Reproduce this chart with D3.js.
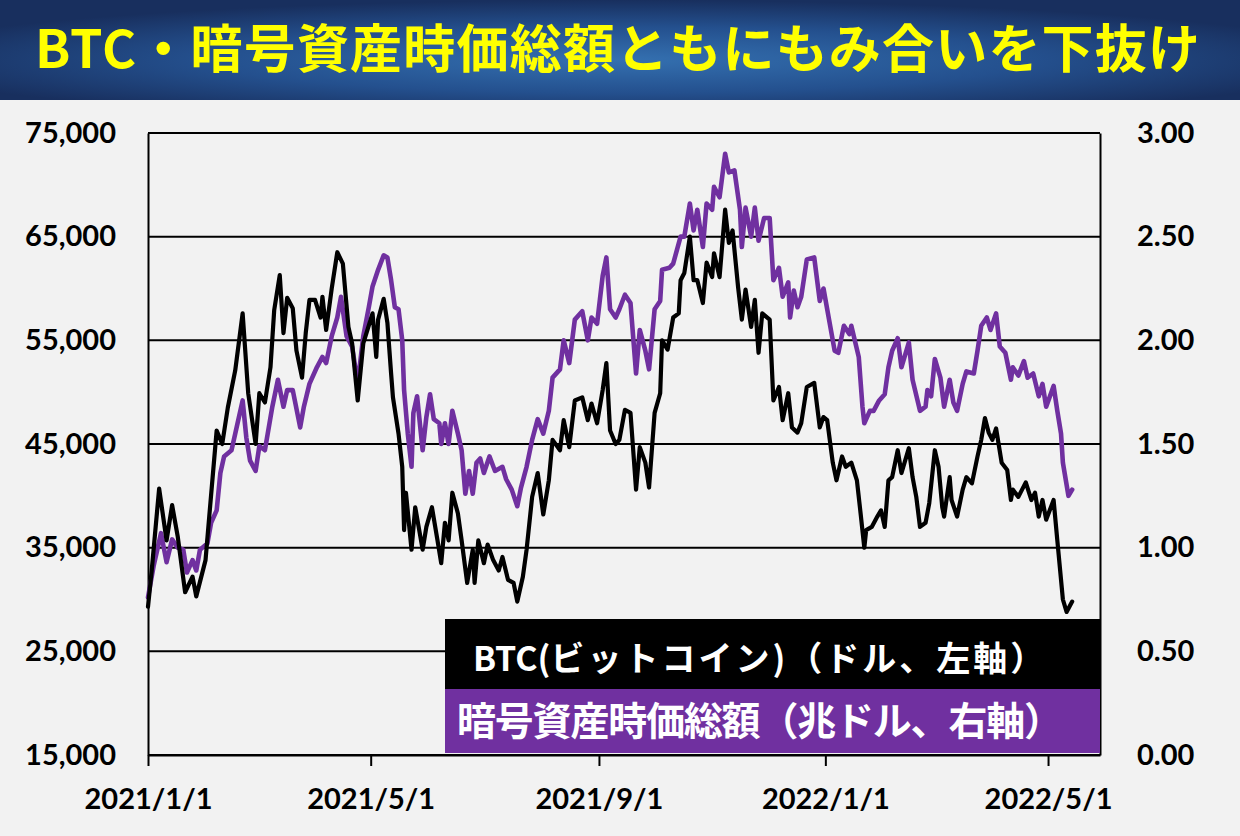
<!DOCTYPE html>
<html><head><meta charset="utf-8">
<script src="https://cdn.jsdelivr.net/npm/d3@7"></script>
<style>body{margin:0;background:#f2f2f2}svg{display:block}</style>
</head><body><svg id="c" width="1240" height="836"></svg>
<script>
const titleText = "BTC・暗号資産時価総額ともにもみ合いを下抜け";
const legendBtcParts = ["BTC(", "ビットコイン)（ドル、左軸）"];
const legendCap = "暗号資産時価総額（兆ドル、右軸）";

const leftTicks = [15000, 25000, 35000, 45000, 55000, 65000, 75000];
const rightTicks = [0, 0.5, 1.0, 1.5, 2.0, 2.5, 3.0];
const xTickDates = ["2021-01-01", "2021-05-01", "2021-09-01", "2022-01-01", "2022-05-01"];
const xTickLabels = ["2021/1/1", "2021/5/1", "2021/9/1", "2022/1/1", "2022/5/1"];
const xDomain = ["2021-01-01", "2022-05-29"];

const btcDates = [
"2021-01-01","2021-01-03","2021-01-07","2021-01-11","2021-01-14","2021-01-17","2021-01-21","2021-01-25","2021-01-27",
"2021-02-01","2021-02-03","2021-02-07","2021-02-10","2021-02-13","2021-02-17","2021-02-21","2021-02-24","2021-02-28",
"2021-03-02","2021-03-05","2021-03-08","2021-03-10","2021-03-13","2021-03-15","2021-03-17","2021-03-20","2021-03-22","2021-03-25","2021-03-27","2021-03-29",
"2021-04-01","2021-04-04","2021-04-05","2021-04-07","2021-04-10","2021-04-13","2021-04-16","2021-04-19","2021-04-21","2021-04-24","2021-04-27",
"2021-05-02","2021-05-04","2021-05-05","2021-05-08","2021-05-10","2021-05-12","2021-05-13","2021-05-16","2021-05-18","2021-05-19","2021-05-20","2021-05-23","2021-05-25","2021-05-29","2021-05-31",
"2021-06-03","2021-06-06","2021-06-08","2021-06-10","2021-06-12","2021-06-14","2021-06-17","2021-06-19","2021-06-22","2021-06-25","2021-06-26","2021-06-28",
"2021-07-01","2021-07-03","2021-07-06","2021-07-09","2021-07-11","2021-07-14","2021-07-17","2021-07-19","2021-07-22","2021-07-24","2021-07-27","2021-07-30",
"2021-08-02","2021-08-05","2021-08-07","2021-08-11","2021-08-13","2021-08-16","2021-08-19","2021-08-23","2021-08-26","2021-08-28","2021-08-31",
"2021-09-03","2021-09-05","2021-09-07","2021-09-10","2021-09-12","2021-09-15","2021-09-18","2021-09-21","2021-09-23","2021-09-26","2021-09-28",
"2021-10-01","2021-10-04","2021-10-05","2021-10-08","2021-10-11","2021-10-14","2021-10-15","2021-10-17","2021-10-20","2021-10-22","2021-10-24","2021-10-27","2021-10-29",
"2021-11-01","2021-11-02","2021-11-05","2021-11-08","2021-11-10","2021-11-12","2021-11-15","2021-11-17","2021-11-19","2021-11-22","2021-11-24","2021-11-26","2021-11-28",
"2021-12-02","2021-12-04","2021-12-07","2021-12-09","2021-12-12","2021-12-14","2021-12-17","2021-12-19","2021-12-22","2021-12-26","2021-12-29","2021-12-31",
"2022-01-02","2022-01-05","2022-01-07","2022-01-10","2022-01-12","2022-01-15","2022-01-18","2022-01-20","2022-01-22","2022-01-23","2022-01-26","2022-01-29","2022-01-31",
"2022-02-02","2022-02-04","2022-02-06","2022-02-09","2022-02-11","2022-02-15","2022-02-17","2022-02-19","2022-02-21","2022-02-24","2022-02-26",
"2022-03-01","2022-03-03","2022-03-05","2022-03-06","2022-03-09","2022-03-10","2022-03-13","2022-03-16","2022-03-18","2022-03-21","2022-03-24","2022-03-26","2022-03-28","2022-03-30",
"2022-04-01","2022-04-03","2022-04-06","2022-04-09","2022-04-11","2022-04-12","2022-04-15","2022-04-19","2022-04-22","2022-04-24","2022-04-26","2022-04-28","2022-04-30",
"2022-05-04","2022-05-06","2022-05-09","2022-05-11","2022-05-14"
];
const btcValues = [
29300,32800,40700,35700,39100,36100,30700,32200,30300,
33800,38000,46300,45000,48500,52100,57600,49900,45000,
49900,49000,52400,57900,61300,55700,59100,58100,54000,51400,55700,58900,
58900,57200,59200,56000,60000,63500,62400,56300,54700,49200,54700,
57600,53400,57000,59000,56700,51800,49500,46000,42800,36700,40300,34800,38900,34800,37000,
38900,35700,33500,37400,35700,40300,38300,35700,31600,34800,31600,35700,
33500,35300,33800,32800,34100,31900,31600,29800,32200,34800,39900,42200,
38200,41500,45400,44400,47300,44700,49200,49500,47300,48900,47000,
50200,52800,46300,45000,45400,48300,48000,40600,44700,43200,40800,
48000,49900,55000,54100,57200,57600,60800,61500,65000,60800,60800,58600,62500,
61100,63400,61100,67600,64400,65600,60100,57000,59900,56300,58900,53800,57600,
57000,49200,50500,47300,49900,46600,46100,47000,50500,50900,46600,47600,
47300,43200,41500,43800,42800,43200,41500,38300,35000,36700,37000,38000,38600,
37000,41500,41800,44400,42200,44600,41800,39900,37000,37400,39300,
44400,42800,38900,38000,41800,39600,38000,40600,41800,41200,43800,45400,47500,46100,
45400,46500,43200,42500,39600,40600,39900,41300,39600,40300,38000,39600,37700,
39600,35700,30000,28800,29800
];

const capDates = [
"2021-01-01","2021-01-04","2021-01-08","2021-01-11","2021-01-14","2021-01-17","2021-01-20","2021-01-22","2021-01-25","2021-01-27","2021-01-29",
"2021-02-02","2021-02-04","2021-02-07","2021-02-09","2021-02-11","2021-02-15","2021-02-17","2021-02-21","2021-02-23","2021-02-25","2021-02-28",
"2021-03-02","2021-03-05","2021-03-09","2021-03-12","2021-03-15","2021-03-17","2021-03-20","2021-03-24","2021-03-26","2021-03-29",
"2021-04-02","2021-04-05","2021-04-07","2021-04-10","2021-04-13","2021-04-15","2021-04-18","2021-04-21","2021-04-24","2021-04-27","2021-04-30",
"2021-05-02","2021-05-05","2021-05-08","2021-05-10","2021-05-12","2021-05-14","2021-05-16","2021-05-18","2021-05-19","2021-05-21","2021-05-23","2021-05-24","2021-05-26","2021-05-29","2021-05-31",
"2021-06-02","2021-06-04","2021-06-07","2021-06-08","2021-06-10","2021-06-12","2021-06-14","2021-06-17","2021-06-19","2021-06-21","2021-06-23","2021-06-25","2021-06-27","2021-06-29",
"2021-07-01","2021-07-04","2021-07-07","2021-07-11","2021-07-13","2021-07-16","2021-07-19","2021-07-21","2021-07-24","2021-07-27","2021-07-30",
"2021-08-02","2021-08-05","2021-08-07","2021-08-11","2021-08-13","2021-08-16","2021-08-19","2021-08-23","2021-08-26","2021-08-28","2021-08-31",
"2021-09-03","2021-09-05","2021-09-07","2021-09-10","2021-09-12","2021-09-15","2021-09-18","2021-09-21","2021-09-23","2021-09-26","2021-09-28",
"2021-10-01","2021-10-04","2021-10-05","2021-10-09","2021-10-11","2021-10-15","2021-10-17","2021-10-20","2021-10-22","2021-10-24","2021-10-27","2021-10-29",
"2021-11-01","2021-11-02","2021-11-05","2021-11-08","2021-11-10","2021-11-13","2021-11-16","2021-11-17","2021-11-19","2021-11-22","2021-11-24","2021-11-26","2021-11-29",
"2021-12-02","2021-12-04","2021-12-07","2021-12-09","2021-12-12","2021-12-13","2021-12-15","2021-12-17","2021-12-19","2021-12-22","2021-12-26","2021-12-29","2021-12-31",
"2022-01-03","2022-01-06","2022-01-08","2022-01-11","2022-01-14","2022-01-15","2022-01-19","2022-01-21","2022-01-22","2022-01-25","2022-01-27","2022-01-30",
"2022-02-02","2022-02-04","2022-02-06","2022-02-09","2022-02-11","2022-02-15","2022-02-17","2022-02-21","2022-02-24","2022-02-25","2022-02-27",
"2022-03-01","2022-03-04","2022-03-06","2022-03-09","2022-03-11","2022-03-13","2022-03-16","2022-03-18","2022-03-22","2022-03-24","2022-03-26","2022-03-29","2022-03-31",
"2022-04-03","2022-04-05","2022-04-08","2022-04-11","2022-04-12","2022-04-15","2022-04-18","2022-04-20","2022-04-23","2022-04-26","2022-04-28","2022-04-30",
"2022-05-04","2022-05-06","2022-05-08","2022-05-09","2022-05-12","2022-05-14"
];
const capValues = [
0.76,0.91,1.07,0.93,1.04,1.00,0.99,0.88,0.94,0.89,0.99,
1.02,1.12,1.18,1.36,1.44,1.47,1.55,1.71,1.53,1.42,1.37,
1.49,1.47,1.68,1.81,1.68,1.76,1.76,1.58,1.68,1.79,
1.87,1.92,1.89,2.02,2.11,2.21,2.02,1.97,1.79,2.02,2.16,
2.26,2.34,2.41,2.40,2.29,2.16,2.15,2.00,1.76,1.55,1.39,1.65,1.73,1.47,1.63,
1.74,1.62,1.60,1.50,1.60,1.50,1.66,1.55,1.47,1.26,1.37,1.26,1.41,1.43,
1.36,1.44,1.37,1.39,1.33,1.28,1.20,1.29,1.39,1.52,1.62,
1.55,1.66,1.82,1.86,2.00,1.89,2.10,2.14,2.00,2.11,2.08,
2.31,2.40,2.15,2.11,2.15,2.22,2.18,1.84,2.05,1.95,1.86,
2.15,2.19,2.34,2.35,2.37,2.50,2.50,2.66,2.53,2.63,2.45,2.66,
2.63,2.74,2.69,2.90,2.81,2.82,2.63,2.45,2.64,2.50,2.64,2.48,2.59,
2.59,2.29,2.35,2.21,2.28,2.11,2.24,2.16,2.21,2.39,2.40,2.19,2.25,
2.10,1.95,1.94,2.07,2.03,2.07,1.92,1.68,1.60,1.66,1.66,1.71,
1.74,1.87,1.95,2.01,1.87,1.99,1.81,1.66,1.68,1.76,1.73,
1.91,1.82,1.68,1.81,1.70,1.66,1.79,1.85,1.84,1.95,2.07,2.11,2.05,
2.13,1.97,1.94,1.81,1.87,1.83,1.90,1.82,1.84,1.73,1.79,1.68,
1.78,1.66,1.55,1.41,1.25,1.28
];

const W = 1240, H = 836;
const M = {left: 148, right: 1100, top: 133, bottom: 755};
const parse = d3.utcParse("%Y-%m-%d");
const svg = d3.select("#c");
const numFont = "Lato, 'Noto Sans', sans-serif";
const jpFont = "'Noto Sans CJK JP', 'Noto Sans', sans-serif";
const purple = "#7030a0";

svg.append("rect").attr("width", W).attr("height", H).attr("fill", "#f2f2f2");

// title banner
const defs = svg.append("defs");
const rg = defs.append("radialGradient").attr("id", "bg").attr("cx", "50%").attr("cy", "60%").attr("r", "60%");
rg.append("stop").attr("offset", "0%").attr("stop-color", "#3470b0");
rg.append("stop").attr("offset", "55%").attr("stop-color", "#24508e");
rg.append("stop").attr("offset", "100%").attr("stop-color", "#182f5e");
svg.append("rect").attr("x", 0).attr("y", 0).attr("width", W).attr("height", 100).attr("fill", "url(#bg)");
svg.append("text").attr("x", 35).attr("y", 68)
  .attr("font-family", jpFont).attr("font-weight", 700).attr("font-size", 52)
  .attr("textLength", 1165).attr("lengthAdjust", "spacing")
  .attr("fill", "#ffff00").text(titleText);

const x = d3.scaleUtc().domain(xDomain.map(parse)).range([M.left, M.right]);
const yL = d3.scaleLinear().domain([15000, 75000]).range([M.bottom, M.top]);
const yR = d3.scaleLinear().domain([0, 3]).range([M.bottom, M.top]);

// gridlines
svg.append("g").selectAll("line").data(leftTicks).join("line")
  .attr("x1", M.left).attr("x2", M.right)
  .attr("y1", d => yL(d)).attr("y2", d => yL(d))
  .attr("stroke", "#000").attr("stroke-width", 2);

// left axis
const fmt = d3.format(",");
const gL = svg.append("g").attr("transform", `translate(${M.left},0)`)
  .call(d3.axisLeft(yL).tickValues(leftTicks).tickFormat(fmt).tickSize(0).tickPadding(32));
gL.select(".domain").attr("stroke", "#000").attr("stroke-width", 2);
gL.selectAll("text").attr("font-family", numFont).attr("font-weight", 700).attr("font-size", 29).attr("fill", "#000");

// right axis
const gR = svg.append("g").attr("transform", `translate(${M.right},0)`)
  .call(d3.axisRight(yR).tickValues(rightTicks).tickFormat(d3.format(".2f")).tickSize(0).tickPadding(37));
gR.select(".domain").attr("stroke", "#000").attr("stroke-width", 2);
gR.selectAll("text").attr("font-family", numFont).attr("font-weight", 700).attr("font-size", 29).attr("fill", "#000");

// bottom axis
const gB = svg.append("g").attr("transform", `translate(0,${M.bottom})`)
  .call(d3.axisBottom(x).tickValues(xTickDates.map(parse)).tickFormat((d, i) => xTickLabels[i]).tickSize(11).tickPadding(22).tickSizeOuter(0));
gB.select(".domain").attr("stroke", "#000").attr("stroke-width", 2);
gB.selectAll(".tick line").attr("stroke", "#000").attr("stroke-width", 2);
gB.selectAll("text").attr("font-family", numFont).attr("font-weight", 700).attr("font-size", 29).attr("fill", "#000");

// lines
const capData = capDates.map((d, i) => ({date: parse(d), v: capValues[i]}));
const btcData = btcDates.map((d, i) => ({date: parse(d), v: btcValues[i]}));
svg.append("path").datum(capData)
  .attr("d", d3.line().x(d => x(d.date)).y(d => yR(d.v)))
  .attr("fill", "none").attr("stroke", purple).attr("stroke-width", 4.6).attr("stroke-linejoin", "round").attr("stroke-linecap", "round");
svg.append("path").datum(btcData)
  .attr("d", d3.line().x(d => x(d.date)).y(d => yL(d.v)))
  .attr("fill", "none").attr("stroke", "#000").attr("stroke-width", 4.2).attr("stroke-linejoin", "round").attr("stroke-linecap", "round");

// top border
svg.append("line").attr("x1", M.left).attr("x2", M.right).attr("y1", M.top).attr("y2", M.top)
  .attr("stroke", "#000").attr("stroke-width", 2);

// legend
svg.append("rect").attr("x", 445).attr("y", 619).attr("width", 655).attr("height", 70).attr("fill", "#000");
svg.append("rect").attr("x", 445).attr("y", 689).attr("width", 655).attr("height", 64).attr("fill", purple);
const lt = svg.append("text").attr("x", 473).attr("y", 671)
  .attr("font-family", jpFont).attr("font-weight", 700).attr("font-size", 34).attr("fill", "#fff");
lt.append("tspan").text(legendBtcParts[0]);
lt.append("tspan").attr("letter-spacing", 3).text(legendBtcParts[1]);
svg.append("text").attr("x", 457).attr("y", 735)
  .attr("font-family", jpFont).attr("font-weight", 700).attr("font-size", 39)
  .attr("textLength", 606).attr("lengthAdjust", "spacing")
  .attr("fill", "#fff").text(legendCap);
</script></body></html>
